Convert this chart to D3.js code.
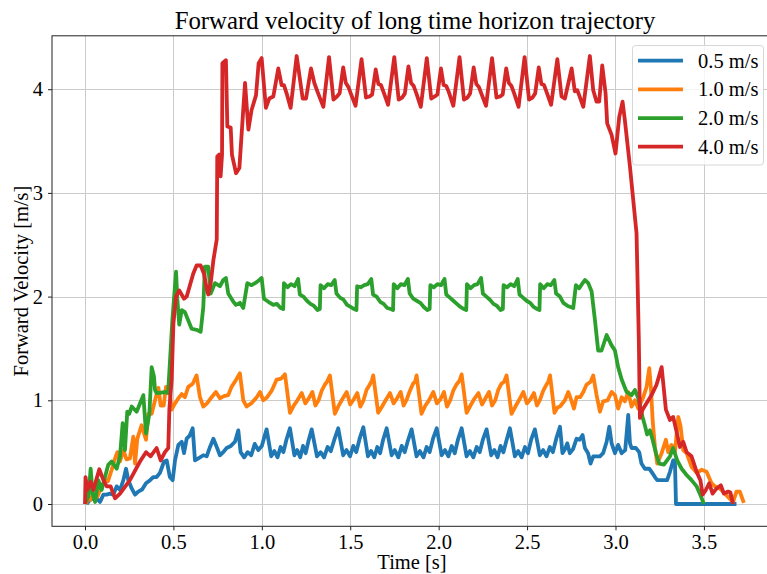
<!DOCTYPE html>
<html>
<head>
<meta charset="utf-8">
<script src="https://cdn.jsdelivr.net/npm/d3@7"></script>
<style>
  html, body { margin: 0; padding: 0; background: #fff; }
  svg { display: block; }
  text { font-family: "Liberation Serif", "Times New Roman", serif; fill: #000; }
</style>
</head>
<body>
<script>
// ---------------- data (time [s], forward velocity [m/s]) ----------------
const titleText = "Forward velocity of long time horizon trajectory";
const xLabel = "Time [s]";
const yLabel = "Forward Velocity [m/s]";
const xTicks = [0.0, 0.5, 1.0, 1.5, 2.0, 2.5, 3.0, 3.5];
const yTicks = [0, 1, 2, 3, 4];
const seriesNames = ["0.5 m/s", "1.0 m/s", "2.0 m/s", "4.0 m/s"];
const seriesColors = ["#1f77b4", "#ff7f0e", "#2ca02c", "#d62728"];

const v05 = [
  [0.009,0],[0.028,0.04],[0.051,0.055],[0.068,0.05],[0.085,0.02],[0.104,0.09],[0.122,0.09],[0.141,0.10],[0.16,0.09],
  [0.179,0.17],[0.198,0.135],[0.217,0.23],[0.232,0.34],[0.245,0.23],[0.264,0.15],[0.283,0.09],[0.301,0.12],[0.323,0.14],
  [0.345,0.20],[0.368,0.23],[0.386,0.26],[0.405,0.26],[0.424,0.30],[0.447,0.41],[0.462,0.42],[0.48,0.26],[0.496,0.23],
  [0.509,0.42],[0.528,0.57],[0.547,0.60],[0.56,0.49],[0.575,0.63],[0.592,0.66],[0.609,0.73],[0.622,0.42],[0.641,0.44],
  [0.669,0.47],[0.688,0.46],[0.707,0.55],[0.726,0.63],[0.745,0.55],[0.763,0.47],[0.782,0.50],[0.801,0.54],[0.825,0.56],
  [0.848,0.60],[0.867,0.71],[0.88,0.50],[0.9,0.45],[0.92,0.50],[0.94,0.47],[0.96,0.58],[0.98,0.52],[1.0,0.56],[1.015,0.65],
  [1.027,0.72],[1.053,0.46],[1.071,0.51],[1.089,0.45],[1.106,0.55],[1.122,0.50],[1.139,0.62],
  [1.159,0.73],[1.184,0.47],[1.2,0.52],[1.217,0.45],[1.233,0.56],[1.248,0.49],[1.264,0.61],
  [1.282,0.72],[1.312,0.46],[1.332,0.50],[1.352,0.45],[1.372,0.55],[1.39,0.51],[1.41,0.62],
  [1.432,0.73],[1.46,0.47],[1.479,0.52],[1.499,0.46],[1.517,0.56],[1.534,0.50],[1.553,0.63],
  [1.574,0.74],[1.6,0.46],[1.618,0.51],[1.636,0.45],[1.653,0.55],[1.669,0.49],[1.686,0.62],
  [1.706,0.73],[1.734,0.47],[1.752,0.52],[1.772,0.45],[1.791,0.56],[1.808,0.50],[1.826,0.61],
  [1.847,0.72],[1.875,0.46],[1.894,0.51],[1.914,0.45],[1.932,0.55],[1.949,0.50],[1.968,0.63],
  [1.989,0.73],[2.017,0.47],[2.036,0.52],[2.055,0.46],[2.074,0.56],[2.091,0.49],[2.109,0.62],
  [2.13,0.73],[2.158,0.46],[2.177,0.51],[2.196,0.45],[2.215,0.55],[2.232,0.50],[2.25,0.62],
  [2.271,0.72],[2.297,0.47],[2.315,0.52],[2.333,0.45],[2.35,0.56],[2.366,0.50],[2.383,0.61],
  [2.403,0.73],[2.431,0.46],[2.45,0.51],[2.469,0.45],[2.488,0.55],[2.505,0.49],[2.523,0.62],
  [2.544,0.72],[2.572,0.47],[2.591,0.52],[2.61,0.46],[2.629,0.55],[2.646,0.50],[2.665,0.63],
  [2.686,0.745],[2.70,0.49],[2.715,0.53],[2.727,0.585],[2.742,0.49],[2.76,0.53],[2.78,0.63],[2.797,0.62],[2.814,0.665],
  [2.827,0.54],[2.845,0.49],[2.859,0.39],[2.874,0.46],[2.912,0.46],[2.93,0.49],[2.95,0.60],[2.965,0.745],[2.978,0.585],
  [2.997,0.49],[3.015,0.57],[3.035,0.49],[3.055,0.52],[3.072,0.86],[3.082,0.585],[3.091,0.54],[3.115,0.54],[3.134,0.50],
  [3.147,0.39],[3.166,0.34],[3.191,0.34],[3.204,0.31],[3.223,0.26],[3.236,0.23],[3.292,0.23],[3.308,0.31],[3.326,0.42],
  [3.336,0.42],[3.342,0.0],[3.684,0.0]
];

const v10 = [
  [0.006,0],[0.019,0.07],[0.03,0.04],[0.047,0.10],[0.07,0.07],[0.094,0.17],[0.113,0.23],[0.13,0.22],[0.151,0.33],
  [0.17,0.44],[0.183,0.50],[0.198,0.41],[0.217,0.52],[0.235,0.43],[0.254,0.44],[0.273,0.65],[0.283,0.39],[0.296,0.63],
  [0.311,0.71],[0.32,0.76],[0.334,0.68],[0.345,0.62],[0.358,0.87],[0.377,0.87],[0.396,1.0],[0.415,1.12],[0.428,0.95],
  [0.445,0.95],[0.458,1.13],[0.48,1.07],[0.49,0.91],[0.509,0.97],[0.528,1.02],[0.547,1.06],[0.565,1.03],[0.584,1.13],
  [0.609,1.16],[0.631,1.24],[0.65,1.03],[0.669,0.94],[0.69,0.97],[0.716,1.03],[0.74,1.08],[0.763,1.02],[0.786,1.04],
  [0.81,1.05],[0.829,1.13],[0.848,1.18],[0.876,1.26],[0.895,1.0],[0.914,0.94],[0.94,0.97],[0.971,1.03],[0.99,1.08],
  [1.008,1.0],[1.03,1.03],[1.055,1.09],[1.084,1.20],[1.11,1.21],
  [1.131,1.25],[1.159,0.88],[1.181,0.95],[1.201,1.0],[1.226,1.07],[1.246,0.97],[1.266,1.02],[1.286,1.08],[1.303,0.95],[1.321,1.0],[1.338,1.09],[1.356,1.15],[1.369,1.18],
  [1.385,1.24],[1.413,0.87],[1.435,0.95],[1.455,1.01],[1.48,1.08],[1.5,0.96],[1.52,1.01],[1.54,1.07],[1.557,0.94],[1.575,1.0],[1.592,1.10],[1.61,1.15],[1.622,1.19],
  [1.63,1.24],[1.658,0.88],[1.68,0.94],[1.7,1.0],[1.725,1.07],[1.745,0.97],[1.765,1.02],[1.785,1.08],[1.802,0.95],[1.82,1.01],[1.837,1.09],[1.855,1.16],[1.867,1.18],
  [1.875,1.24],[1.903,0.87],[1.925,0.95],[1.945,1.0],[1.97,1.08],[1.99,0.97],[2.01,1.01],[2.03,1.08],[2.047,0.94],[2.065,1.0],[2.082,1.09],[2.1,1.15],[2.118,1.19],
  [2.13,1.25],[2.158,0.88],[2.18,0.95],[2.2,1.01],[2.225,1.07],[2.245,0.96],[2.265,1.02],[2.285,1.08],[2.302,0.95],[2.32,1.0],[2.337,1.10],[2.355,1.16],[2.37,1.18],
  [2.384,1.24],[2.412,0.87],[2.434,0.94],[2.454,1.0],[2.479,1.08],[2.499,0.97],[2.519,1.01],[2.539,1.07],[2.556,0.95],[2.574,1.01],[2.591,1.09],[2.609,1.15],[2.62,1.18],
  [2.63,1.24],[2.655,0.88],[2.672,0.93],[2.686,0.94],[2.714,1.0],[2.733,1.08],[2.752,0.99],[2.765,0.92],[2.78,1.03],[2.80,1.03],[2.818,1.08],[2.836,1.15],[2.859,1.18],
  [2.874,1.24],[2.893,1.05],[2.912,0.89],[2.93,0.99],[2.955,1.0],[2.978,1.08],[2.997,1.05],[3.015,0.92],[3.035,1.03],[3.053,0.99],
  [3.072,1.08],[3.091,0.94],[3.11,1.0],[3.129,0.92],[3.157,1.03],[3.176,1.13],[3.191,1.31],[3.2,1.13],[3.21,0.81],[3.223,0.55],
  [3.236,0.39],[3.261,0.49],[3.285,0.62],[3.298,0.50],[3.317,0.57],[3.336,0.50],[3.355,0.84],[3.368,0.75],[3.383,0.52],
  [3.402,0.49],[3.43,0.36],[3.459,0.30],[3.487,0.33],[3.515,0.31],[3.543,0.20],[3.562,0.17],[3.59,0.15],[3.619,0.10],
  [3.647,0.05],[3.665,0.02],[3.684,0.12],[3.703,0.12],[3.726,0.01]
];

const v20 = [
  [0,0],[0.02,0.08],[0.032,0.34],[0.043,0.10],[0.057,0.02],[0.075,0.23],[0.094,0.135],[0.113,0.26],[0.132,0.38],
  [0.151,0.41],[0.179,0.34],[0.198,0.46],[0.213,0.78],[0.226,0.52],[0.239,0.89],[0.25,0.87],[0.264,0.94],[0.292,0.89],
  [0.311,0.97],[0.33,1.05],[0.345,0.68],[0.364,0.87],[0.377,1.32],[0.39,1.23],[0.396,1.10],[0.405,1.07],[0.461,1.08],
  [0.47,1.07],[0.494,1.77],[0.515,2.24],[0.522,1.98],[0.533,1.73],[0.547,1.87],[0.565,1.85],[0.584,1.77],[0.603,1.69],
  [0.631,1.68],[0.654,1.66],[0.669,1.90],[0.678,2.29],[0.697,2.29],[0.711,2.03],[0.735,2.13],[0.763,2.10],[0.782,2.16],
  [0.797,2.18],[0.81,2.03],[0.839,1.95],[0.854,1.92],[0.876,1.94],[0.895,1.89],[0.918,2.13],[0.942,2.11],[0.971,2.14],
  [0.999,2.18],[1.012,1.98],[1.037,1.95],[1.065,1.92],[1.085,1.93],[1.106,1.89],[1.121,1.88],
  [1.125,2.13],[1.145,2.09],[1.165,2.12],[1.185,2.10],[1.205,2.17],[1.215,2.02],[1.235,2.0],[1.255,1.96],[1.275,1.93],[1.295,1.91],[1.315,1.87],[1.328,1.88],
  [1.332,2.11],[1.352,2.08],[1.372,2.12],[1.392,2.11],[1.412,2.16],[1.422,2.03],[1.442,1.99],[1.462,1.97],[1.482,1.92],[1.502,1.90],[1.522,1.88],[1.535,1.87],
  [1.539,2.10],[1.559,2.09],[1.579,2.11],[1.599,2.12],[1.619,2.17],[1.629,2.02],[1.649,2.0],[1.669,1.95],[1.689,1.93],[1.709,1.89],[1.729,1.88],[1.742,1.87],
  [1.746,2.12],[1.766,2.08],[1.786,2.12],[1.806,2.11],[1.826,2.17],[1.836,2.03],[1.856,1.98],[1.876,1.96],[1.896,1.94],[1.916,1.90],[1.936,1.87],[1.949,1.88],
  [1.953,2.11],[1.973,2.09],[1.993,2.12],[2.013,2.11],[2.033,2.17],[2.043,2.02],[2.063,1.99],[2.083,1.96],[2.103,1.93],[2.123,1.90],[2.143,1.88],[2.156,1.87],
  [2.16,2.12],[2.18,2.08],[2.2,2.11],[2.22,2.12],[2.24,2.18],[2.25,2.03],[2.27,2.0],[2.29,1.97],[2.31,1.93],[2.33,1.91],[2.35,1.87],[2.363,1.88],
  [2.367,2.11],[2.387,2.09],[2.407,2.12],[2.427,2.10],[2.447,2.17],[2.457,2.02],[2.477,1.99],[2.497,1.96],[2.517,1.94],[2.537,1.90],[2.557,1.88],[2.57,1.87],
  [2.574,2.12],[2.594,2.08],[2.614,2.12],[2.634,2.11],[2.654,2.16],[2.664,2.03],[2.686,2.0],[2.705,1.94],[2.73,1.91],[2.761,1.89],
  [2.776,2.11],[2.795,2.08],[2.81,2.12],[2.827,2.16],[2.846,2.13],[2.865,2.05],[2.884,1.77],[2.902,1.48],[2.921,1.48],
  [2.95,1.63],[2.978,1.53],[2.997,1.48],[3.015,1.32],[3.035,1.20],[3.063,1.08],[3.091,1.05],[3.11,1.10],[3.129,1.02],
  [3.153,0.84],[3.166,0.76],[3.179,0.67],[3.195,0.71],[3.21,0.62],[3.229,0.49],[3.247,0.39],[3.274,0.38],[3.308,0.46],
  [3.326,0.54],[3.349,0.42],[3.374,0.34],[3.402,0.28],[3.43,0.23],[3.459,0.17],[3.477,0.10],[3.50,0.0]
];

const v40 = [
  [0,0],[0.003,0.26],[0.013,0.135],[0.032,0.215],[0.047,0.135],[0.081,0.335],[0.104,0.23],[0.123,0.17],[0.145,0.17],
  [0.17,0.055],[0.198,0.10],[0.254,0.23],[0.311,0.41],[0.345,0.50],[0.371,0.46],[0.405,0.54],[0.428,0.42],[0.452,0.50],
  [0.471,0.54],[0.477,0.91],[0.49,1.2],[0.5,1.74],[0.515,2.0],[0.533,2.06],[0.56,1.98],[0.575,2.0],[0.612,2.22],
  [0.631,2.30],[0.654,2.30],[0.673,2.22],[0.688,2.08],[0.697,2.02],[0.711,2.13],[0.726,2.35],[0.745,2.55],[0.748,3.35],
  [0.759,3.37],[0.767,3.16],[0.775,3.37],[0.777,4.25],[0.797,4.28],[0.805,3.64],[0.824,3.63],[0.831,3.37],[0.854,3.19],
  [0.873,3.24],[0.905,4.06],[0.924,3.61],[0.942,3.80],[0.967,3.94],[0.982,4.25],
  [0.999,4.30],[1.023,3.82],[1.042,3.91],[1.065,3.93],[1.093,4.20],[1.112,4.04],[1.125,4.04],[1.14,3.96],[1.163,3.82],
  [1.197,4.32],[1.231,3.91],[1.25,3.91],[1.278,4.20],[1.297,4.06],[1.314,3.98],[1.348,3.83],
  [1.38,4.31],[1.405,3.90],[1.425,3.93],[1.44,3.96],[1.46,4.21],[1.475,4.06],[1.49,4.02],[1.505,3.95],[1.53,3.84],
  [1.564,4.29],[1.589,3.92],[1.609,3.93],[1.624,3.95],[1.644,4.19],[1.659,4.05],[1.674,4.04],[1.689,3.97],[1.714,3.85],
  [1.749,4.31],[1.774,3.90],[1.794,3.92],[1.809,3.96],[1.829,4.22],[1.844,4.06],[1.859,4.03],[1.874,3.96],[1.899,3.83],
  [1.933,4.30],[1.958,3.91],[1.978,3.93],[1.993,3.95],[2.013,4.20],[2.028,4.04],[2.043,4.03],[2.058,3.97],[2.083,3.84],
  [2.118,4.31],[2.143,3.90],[2.163,3.92],[2.178,3.96],[2.198,4.21],[2.213,4.05],[2.228,4.02],[2.243,3.95],[2.268,3.84],
  [2.302,4.30],[2.327,3.92],[2.347,3.93],[2.362,3.95],[2.382,4.20],[2.397,4.06],[2.412,4.03],[2.427,3.96],[2.452,3.83],
  [2.486,4.31],[2.511,3.90],[2.531,3.92],[2.546,3.96],[2.566,4.21],[2.581,4.05],[2.596,4.04],[2.611,3.97],[2.636,3.85],
  [2.671,4.29],[2.695,3.93],[2.714,3.91],[2.752,4.20],[2.77,3.98],[2.784,3.99],[2.795,3.94],[2.818,3.83],
  [2.855,4.32],[2.874,3.99],[2.893,3.88],[2.908,3.88],[2.925,4.23],[2.944,3.96],[2.953,3.67],[2.978,3.56],[3.0,3.38],
  [3.021,3.73],[3.04,3.88],[3.053,3.70],[3.082,3.25],[3.119,2.61],[3.132,1.58],[3.138,0.83],[3.153,0.91],[3.204,1.05],
  [3.232,1.15],[3.261,1.32],[3.285,0.91],[3.308,0.81],[3.326,0.84],[3.345,0.70],[3.364,0.55],[3.383,0.60],[3.402,0.50],
  [3.43,0.46],[3.459,0.31],[3.48,0.23],[3.493,0.09],[3.511,0.135],[3.53,0.20],[3.549,0.10],[3.572,0.15],[3.596,0.18],
  [3.613,0.10],[3.637,0.12],[3.65,0.11],[3.665,0.0]
];

const seriesData = [v05, v10, v20, v40];

// ---------------- layout ----------------
const W = 767, H = 574;
const plot = { left: 52, right: 778, top: 35.8, bottom: 526.3 };
const xDomain = [-0.1866, 3.919];
const yDomain = [-0.215, 4.515];
const FONT = '"Liberation Serif", "Times New Roman", Times, serif';

const svg = d3.select("body").append("svg").attr("width", W).attr("height", H)
  .attr("font-family", FONT);

const x = d3.scaleLinear().domain(xDomain).range([plot.left, plot.right]);
const y = d3.scaleLinear().domain(yDomain).range([plot.bottom, plot.top]);

// grid
const grid = svg.append("g");
grid.selectAll(".gx").data(xTicks).enter().append("line")
  .attr("x1", d => Math.round(x(d)) + 0.5).attr("x2", d => Math.round(x(d)) + 0.5)
  .attr("y1", plot.top).attr("y2", plot.bottom)
  .attr("stroke", "#cbcbcb").attr("stroke-width", 1);
grid.selectAll(".gy").data(yTicks).enter().append("line")
  .attr("x1", plot.left).attr("x2", plot.right)
  .attr("y1", d => Math.round(y(d)) + 0.5).attr("y2", d => Math.round(y(d)) + 0.5)
  .attr("stroke", "#cbcbcb").attr("stroke-width", 1);

// lines
const line = d3.line().x(d => x(d[0])).y(d => y(d[1]));
const linesG = svg.append("g");
seriesData.forEach((data, i) => {
  linesG.append("path").datum(data)
    .attr("d", line)
    .attr("fill", "none")
    .attr("stroke", seriesColors[i])
    .attr("stroke-width", 3.8)
    .attr("stroke-linejoin", "round")
    .attr("stroke-linecap", "butt");
});

// axes
const xAxis = d3.axisBottom(x).tickValues(xTicks).tickFormat(d3.format(".1f")).tickSize(4).tickPadding(4);
const yAxis = d3.axisLeft(y).tickValues(yTicks).tickFormat(d3.format("d")).tickSize(4).tickPadding(5);

const gx = svg.append("g").attr("transform", `translate(0,${plot.bottom})`).call(xAxis);
const gy = svg.append("g").attr("transform", `translate(${plot.left},0)`).call(yAxis);
[gx, gy].forEach(g => {
  g.attr("font-family", FONT).attr("font-size", 20.5);
  g.select(".domain").remove();
  g.selectAll(".tick line").attr("stroke", "#222").attr("stroke-width", 1);
  g.selectAll(".tick text").style("font-family", FONT).style("font-size", "20.5px").attr("fill", "#000");
});

// frame
svg.append("rect")
  .attr("x", plot.left).attr("y", plot.top)
  .attr("width", plot.right - plot.left).attr("height", plot.bottom - plot.top)
  .attr("fill", "none").attr("stroke", "#222").attr("stroke-width", 1);

// title & labels
svg.append("text").attr("x", (plot.left + plot.right) / 2).attr("y", 29)
  .attr("text-anchor", "middle").style("font-family", FONT).style("font-size", "24.8px").text(titleText);
svg.append("text").attr("x", (plot.left + plot.right) / 2 - 3).attr("y", 569)
  .attr("text-anchor", "middle").style("font-family", FONT).style("font-size", "20.5px").text(xLabel);
svg.append("text")
  .attr("transform", `translate(28,${(plot.top + plot.bottom) / 2}) rotate(-90)`)
  .attr("text-anchor", "middle").style("font-family", FONT).style("font-size", "20.5px").text(yLabel);

// legend
const leg = svg.append("g");
leg.append("rect").attr("x", 632.5).attr("y", 45.5).attr("width", 131).attr("height", 119.5)
  .attr("rx", 3).attr("fill", "#fff").attr("fill-opacity", 0.8)
  .attr("stroke", "#d6d6d6").attr("stroke-width", 1);
const rowY = d3.scaleLinear().domain([0, 3]).range([60.7, 146.7]);
seriesNames.forEach((name, i) => {
  leg.append("line").attr("x1", 638).attr("x2", 683)
    .attr("y1", rowY(i)).attr("y2", rowY(i))
    .attr("stroke", seriesColors[i]).attr("stroke-width", 3.8);
  leg.append("text").attr("x", 698).attr("y", rowY(i) + 7)
    .style("font-family", FONT).style("font-size", "20.5px").text(name);
});
</script>
</body>
</html>
